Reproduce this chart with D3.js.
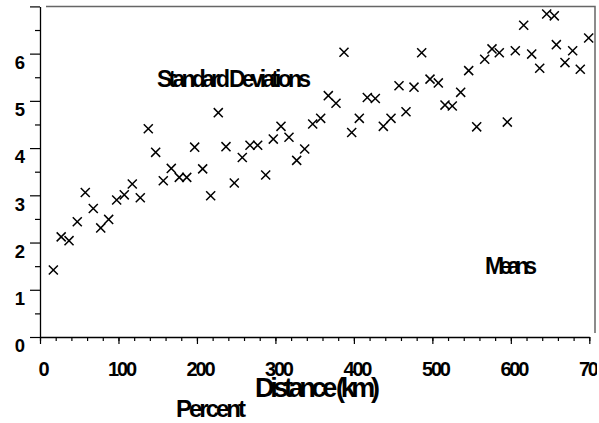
<!DOCTYPE html>
<html>
<head>
<meta charset="utf-8">
<script src="https://cdn.jsdelivr.net/npm/d3@7"></script>
<style>
  body { margin: 0; background: #fff; }
  svg { display: block; }
  text { font-family: "Liberation Sans", Arial, sans-serif; fill: #000; }
</style>
</head>
<body>
<div id="container"></div>
<script>
const distances = [17, 27, 37, 47.5, 57.7, 67.9, 77.4, 87.5, 97.7, 107.4,
  117.6, 127.8, 138, 147.4, 157.1, 167.3, 177.5, 187, 197.1, 207.3,
  217.5, 227.2, 237, 247.6, 257.8, 267.6, 277.4, 287.6, 297.3, 307.1,
  317.3, 327.1, 337.3, 347.5, 357.7, 367.4, 377.2, 387.4, 397.2, 406.9,
  417.1, 427.3, 437.5, 447.3, 457.5, 466.4, 476.6, 486.4, 497, 507.6,
  516.1, 525.4, 536.1, 546.3, 556.5, 566.7, 576, 585.3, 595.5, 605.7,
  616.4, 626.6, 636.8, 645.7, 655.4, 658, 669, 678.8, 688.5, 699.2]
// percent values
const percents = [1.42, 2.12, 2.04, 2.44, 3.06, 2.72, 2.31, 2.49, 2.9, 3.01,
  3.24, 2.95, 4.41, 3.91, 3.31, 3.57, 3.38, 3.38, 4.02, 3.56,
  2.99, 4.75, 4.03, 3.26, 3.8, 4.06, 4.06, 3.43, 4.19, 4.46,
  4.23, 3.74, 3.98, 4.51, 4.63, 5.11, 4.95, 6.03, 4.33, 4.63,
  5.07, 5.05, 4.46, 4.63, 5.32, 4.77, 5.29, 6.02, 5.46, 5.38,
  4.91, 4.89, 5.18, 5.64, 4.45, 5.88, 6.1, 6.02, 4.55, 6.06,
  6.6, 5.99, 5.69, 6.84, 6.8, 6.19, 5.81, 6.06, 5.67, 6.33]

const xTicks = [0, 100, 200, 300, 400, 500, 600, 700]
const yTicks = [0, 1, 2, 3, 4, 5, 6]

const width = 599
const height = 423

const points = distances.map((d, i) => ({ d, p: percents[i] }))

const x = d3.scaleLinear().domain([0, 700]).range([40, 589.3])
const y = d3.scaleLinear().domain([0, 7]).range([337, 6.4])

const svg = d3.select("#container").append("svg")
  .attr("width", width)
  .attr("height", height)

svg.append("clipPath").attr("id", "pageclip")
  .append("rect").attr("x", 0).attr("y", 0).attr("width", 597).attr("height", height)

const root = svg.append("g").attr("clip-path", "url(#pageclip)")

// frame on top and right (grey)
root.append("path")
  .attr("d", `M46,${y(7)}H595V333`)
  .attr("fill", "none")
  .attr("stroke", "#666")
  .attr("stroke-width", 1.5)

// x axis, minor ticks
root.append("g")
  .attr("transform", `translate(0,${y(0)})`)
  .call(d3.axisBottom(x).tickValues(d3.range(0, 701, 20)).tickSize(4).tickFormat(""))
  .call((g) => g.select(".domain").remove())

// x axis, major ticks
const xAxis = root.append("g")
  .attr("transform", `translate(0,${y(0)})`)
  .call(d3.axisBottom(x).tickValues(xTicks).tickSize(7).tickSizeOuter(0).tickFormat(d3.format("d")))
xAxis.selectAll("text")
  .attr("y", 39).attr("dy", 0).attr("dx", 2.5)
  .style("font-size", "20px").style("font-weight", "bold").style("letter-spacing", "-2.2px")
  .style("font-family", "Liberation Sans, Arial, sans-serif")

// y axis, minor ticks
root.append("g")
  .attr("transform", "translate(40,0)")
  .call(d3.axisLeft(y).tickValues(d3.range(0.5, 7, 1)).tickSize(5).tickFormat(""))
  .call((g) => g.select(".domain").remove())

// y axis, major ticks
const yAxis = root.append("g")
  .attr("transform", "translate(40,0)")
  .call(d3.axisLeft(y).tickValues([...yTicks, 7]).tickSize(10).tickSizeOuter(0)
    .tickFormat((d) => (d === 7 ? "" : d)))
yAxis.selectAll("text")
  .attr("x", -15).attr("dy", 14.7)
  .style("font-size", "18.5px").style("font-weight", "bold")
  .style("font-family", "Liberation Sans, Arial, sans-serif")

root.selectAll(".domain").attr("stroke", "#000").attr("stroke-width", 1.3)
root.selectAll(".tick line").attr("stroke", "#000").attr("stroke-width", 1.2)

// markers
const cross = d3.symbol().type(d3.symbolTimes).size(55)
root.append("g")
  .selectAll("path")
  .data(points)
  .join("path")
  .attr("transform", (pt) => `translate(${x(pt.d)},${y(pt.p)})`)
  .attr("d", cross)
  .attr("fill", "none")
  .attr("stroke", "#000")
  .attr("stroke-width", 1.5)

// labels
const labels = [
  { t: "Standard Deviations", x: 157, y: 87, size: 23, len: 154 },
  { t: "Means", x: 485, y: 274, size: 23, len: 52 },
  { t: "Distance (km)", x: 255, y: 396.5, size: 27, len: 125 },
  { t: "Percent", x: 176, y: 417, size: 24, len: 70 },
]
root.append("g")
  .selectAll("text")
  .data(labels)
  .join("text")
  .attr("x", (l) => l.x)
  .attr("y", (l) => l.y)
  .attr("textLength", (l) => l.len)
  .attr("lengthAdjust", "spacing")
  .style("font-size", (l) => l.size + "px")
  .style("font-weight", "bold")
  .text((l) => l.t)
</script>
</body>
</html>
